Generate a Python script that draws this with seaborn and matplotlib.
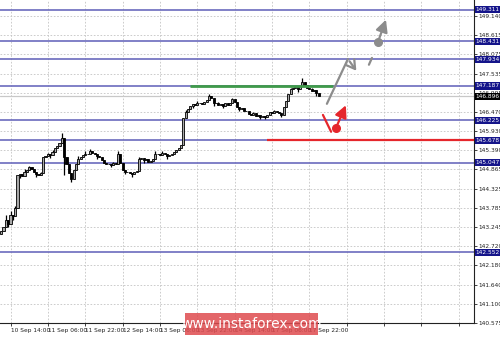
import matplotlib
matplotlib.use("Agg")
import matplotlib.pyplot as plt
import matplotlib.transforms as mtransforms
from matplotlib.patches import Rectangle
import seaborn as sns
import numpy as np

# ---------------- data ----------------
closes = [143.15, 143.25, 143.45, 143.35, 143.60, 143.55, 143.78, 144.70, 144.72, 144.68,
          144.80, 144.85, 144.92, 144.88, 144.80, 144.72, 144.70, 144.75, 145.20, 145.22,
          145.28, 145.25, 145.35, 145.45, 145.50, 145.60, 145.75, 145.20, 145.00, 144.75,
          144.60, 144.85, 145.00, 145.15, 145.20, 145.25, 145.30, 145.28, 145.38, 145.32,
          145.30, 145.22, 145.20, 145.12, 145.05, 145.00, 145.02, 144.98, 145.03, 145.00,
          145.30, 145.05, 144.85, 144.80, 144.78, 144.75, 144.72, 144.78, 144.82, 145.15,
          145.18, 145.12, 145.15, 145.08, 145.10, 145.15, 145.30, 145.28, 145.25, 145.32,
          145.28, 145.22, 145.25, 145.30, 145.35, 145.40, 145.45, 145.55, 146.30, 146.45,
          146.55, 146.62, 146.68, 146.65, 146.70, 146.72, 146.68, 146.75, 146.80, 146.90,
          146.85, 146.70, 146.72, 146.65, 146.68, 146.62, 146.70, 146.66, 146.72, 146.82,
          146.75, 146.60, 146.55, 146.58, 146.50, 146.48, 146.40, 146.38, 146.42, 146.35,
          146.38, 146.33, 146.36, 146.32, 146.38, 146.45, 146.42, 146.48, 146.45, 146.43,
          146.38, 146.60, 146.78, 146.95, 147.10, 147.12, 147.15, 147.10, 147.20, 147.30,
          147.22, 147.12, 147.10, 147.05, 147.08, 147.00, 146.896]
first_open = 143.05
spike_highs = {2: 143.58, 4: 143.70, 6: 143.85, 10: 144.86, 12: 144.96, 17: 144.80, 20: 145.33,
               22: 145.40, 26: 145.88, 33: 145.22, 36: 145.36, 38: 145.42, 43: 145.18, 48: 145.08,
               50: 145.36, 59: 145.20, 66: 145.36, 69: 145.37, 79: 146.52, 84: 146.76, 89: 146.95,
               93: 146.74, 99: 146.86, 108: 146.46, 117: 146.52, 124: 147.14, 129: 147.42,
               133: 147.12}
spike_lows = {0: 143.08, 3: 143.26, 5: 143.44, 8: 144.62, 15: 144.65, 21: 145.18, 27: 144.71,
              30: 144.50, 31: 144.58, 41: 145.16, 47: 144.92, 53: 144.74, 56: 144.66, 61: 145.05,
              71: 145.16, 82: 146.58, 91: 146.62, 95: 146.56, 102: 146.50, 111: 146.28,
              113: 146.28, 120: 146.33, 127: 147.02, 135: 146.92}

levels = [149.311, 148.431, 147.934, 147.187, 146.225, 145.678, 145.047, 142.552]
current_price = 146.896
y_ticks = [149.140, 148.615, 148.075, 147.535, 146.995, 146.470, 145.930, 145.390, 144.865,
           144.325, 143.785, 143.245, 142.720, 142.180, 141.640, 141.100, 140.575]
x_tick_labels = ["10 Sep 14:00", "11 Sep 06:00", "11 Sep 22:00", "12 Sep 14:00", "13 Sep 06:00",
                 "13 Sep 22:00", "14 Sep 14:00", "17 Sep 06:00", "17 Sep 22:00"]

green_level = 147.19
green_span = (81, 142)
red_level = 145.678
red_start = 114

gray_path_x = [139.5, 148.5, 152.8]
gray_path_y = [146.69, 147.94, 147.55]
gray_dash_x = [157.5, 158.8]
gray_dash_y = [147.78, 147.97]
gray_point = (161.4, 148.42)
gray_target = (165.2, 149.11)
red_path_x = [137.8, 141.3]
red_path_y = [146.38, 145.91]
red_point = (143.4, 146.02)
red_target = (148.1, 146.72)

# ---------------- style ----------------
sns.set_theme(style="white")
plt.rcParams['font.family'] = ['DejaVu Sans']

fig = plt.figure(figsize=(5.0, 3.37), dpi=100)
ax = fig.add_axes([0.0, 14 / 337, 474 / 500, 323 / 337])

n = len(closes)
x = np.arange(n)
opens = [first_open] + closes[:-1]
highs = [max(o, c) for o, c in zip(opens, closes)]
lows = [min(o, c) for o, c in zip(opens, closes)]
for k, v in spike_highs.items():
    highs[k] = max(v, highs[k])
for k, v in spike_lows.items():
    lows[k] = min(v, lows[k])

ax.set_xlim(-0.5, 202.5)
ax.set_ylim(140.575, 149.586)

# grid
xt = list(range(4, 203, 16))
ax.set_xticks(xt)
ax.set_xticklabels(x_tick_labels + [""] * (len(xt) - len(x_tick_labels)))
ax.set_yticks(y_ticks)
ax.set_yticklabels([f"{v:.3f}" for v in y_ticks])
ax.grid(True, linestyle=(0, (2, 2)), color="#c4c4c4", linewidth=0.6)

# levels
for lv in levels:
    ax.axhline(lv, color="#6b6bbd", linewidth=1.2, zorder=2)
ax.axhline(current_price, color="#c8c8c8", linewidth=0.9, zorder=2)

# candles
ax.vlines(x, lows, highs, color="black", linewidth=0.9, zorder=3)
bull = [c >= o for o, c in zip(opens, closes)]
bodies_bottom = [min(o, c) for o, c in zip(opens, closes)]
bodies_h = [max(abs(c - o), 0.018) for o, c in zip(opens, closes)]
ax.bar(x, bodies_h, bottom=bodies_bottom, width=0.9,
       color=["#a8a8a8" if b else "black" for b in bull],
       edgecolor="black", linewidth=0.6, zorder=4)

# support / resistance
ax.hlines(green_level, green_span[0], green_span[1], color="#3f9a4a", linewidth=2.0, zorder=5)
ax.hlines(red_level, red_start, 202.5, color="#e5262c", linewidth=1.6, zorder=5)

# forecast arrows (gray)
gray = "#8c8c8c"
ax.plot(gray_path_x[:2], gray_path_y[:2], color=gray, linewidth=1.6, zorder=6)
ax.annotate("", xy=(gray_path_x[2], gray_path_y[2]), xytext=(gray_path_x[1], gray_path_y[1]),
            arrowprops=dict(arrowstyle="->,head_length=0.5,head_width=0.3", color=gray, lw=1.6),
            zorder=6)
ax.plot(gray_dash_x, gray_dash_y, color=gray, linewidth=1.6, zorder=6)
ax.plot([gray_point[0]], [gray_point[1]], "o", color=gray, markersize=5.5, zorder=7)
ax.annotate("", xy=gray_target, xytext=gray_point,
            arrowprops=dict(arrowstyle="-|>,head_length=0.6,head_width=0.3", color=gray, lw=1.6),
            zorder=6)

# forecast arrows (red)
red = "#e5262c"
ax.plot(red_path_x, red_path_y, color=red, linewidth=1.6, zorder=6)
ax.plot([red_point[0]], [red_point[1]], "o", color=red, markersize=5.5, zorder=7)
ax.annotate("", xy=red_target, xytext=red_point,
            arrowprops=dict(arrowstyle="-|>,head_length=0.6,head_width=0.3", color=red, lw=1.6),
            zorder=6)

# axes styling
ax.yaxis.tick_right()
ax.tick_params(axis="y", labelsize=4.2, length=2, width=0.6, pad=1.5, colors="#222222",
               right=True, left=False)
ax.tick_params(axis="x", labelsize=4.2, length=2, width=0.6, pad=1.5, colors="#222222",
               bottom=True)
for lbl in ax.get_xticklabels():
    lbl.set_horizontalalignment("left")
for s in ["top", "left"]:
    ax.spines[s].set_visible(False)
for s in ["right", "bottom"]:
    ax.spines[s].set_color("#222222")
    ax.spines[s].set_linewidth(0.8)

# level labels
trans = mtransforms.blended_transform_factory(ax.transAxes, ax.transData)
for lv in levels:
    ax.text(1.004, lv, f"{lv:.3f}", transform=trans, fontsize=4.2, color="white",
            va="center", ha="left", zorder=10, clip_on=False,
            bbox=dict(boxstyle="square,pad=0.18", fc="#14148a", ec="none"))
ax.text(1.004, current_price, f"{current_price:.3f}", transform=trans, fontsize=4.2,
        color="white", va="center", ha="left", zorder=10, clip_on=False,
        bbox=dict(boxstyle="square,pad=0.18", fc="black", ec="none"))

# watermark
fig.add_artist(Rectangle((185 / 500, 2 / 337), 133 / 500, 22 / 337, transform=fig.transFigure,
                         facecolor="#de4b4f", alpha=0.85, edgecolor="none", zorder=20))
fig.text(251.5 / 500, 13 / 337, "www.instaforex.com", color="white", fontsize=10,
         ha="center", va="center", zorder=21)

fig.savefig("out.png", dpi=100)
